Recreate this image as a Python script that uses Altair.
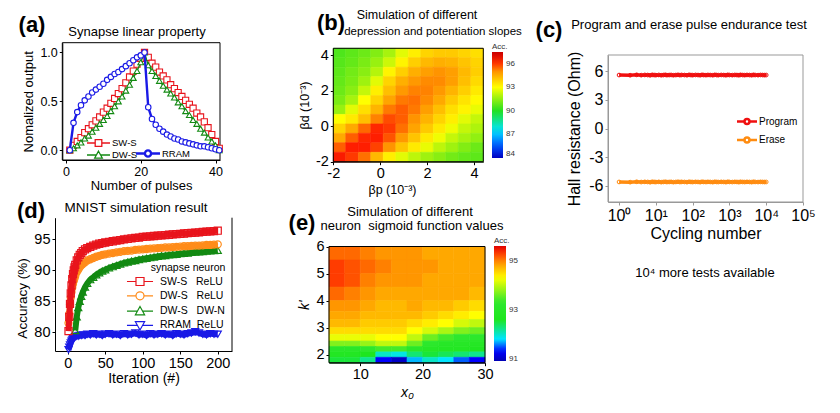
import altair as alt
import pandas as pd

FONT = "Liberation Sans"
MARGIN = 8
W, H = 820, 395


def P(v):
    return round(v - MARGIN, 2)

# ---------------- (a) synapse linear property ----------------
A_PULSE = [1, 2, 3, 4, 5, 6, 7, 8, 9, 10, 11, 12, 13, 14, 15, 16, 17, 18, 19, 20, 21,
           22, 23, 24, 25, 26, 27, 28, 29, 30, 31, 32, 33, 34, 35, 36, 37, 38, 39, 40, 41]
A_SWS = [0.0, 0.05, 0.09, 0.13, 0.18, 0.22, 0.26, 0.30, 0.34, 0.39, 0.43, 0.48, 0.53, 0.58,
         0.63, 0.69, 0.75, 0.81, 0.88, 0.94, 1.0,
         0.95, 0.89, 0.85, 0.80, 0.76, 0.72, 0.67, 0.63, 0.59, 0.55, 0.51, 0.47, 0.43, 0.38,
         0.34, 0.29, 0.23, 0.16, 0.09, 0.02]
A_DWS = [0.0, 0.02, 0.05, 0.08, 0.12, 0.15, 0.19, 0.23, 0.27, 0.31, 0.35, 0.40, 0.45, 0.50,
         0.55, 0.61, 0.67, 0.74, 0.81, 0.90, 1.0,
         0.87, 0.81, 0.76, 0.71, 0.66, 0.62, 0.58, 0.54, 0.49, 0.45, 0.40, 0.36, 0.31, 0.27,
         0.22, 0.18, 0.13, 0.09, 0.05, 0.0]
A_RRAM = [0.0, 0.28, 0.39, 0.46, 0.51, 0.55, 0.59, 0.62, 0.65, 0.68, 0.72, 0.75, 0.78, 0.80,
          0.83, 0.86, 0.89, 0.92, 0.95, 0.97, 1.0,
          0.44, 0.32, 0.26, 0.22, 0.19, 0.16, 0.14, 0.12, 0.11, 0.09, 0.08, 0.07, 0.06, 0.05,
          0.04, 0.04, 0.03, 0.02, 0.01, 0.0]
A_NAMES = ["SW-S", "DW-S", "RRAM"]

# ---------------- (b) depression / potentiation slopes ----------------
B_EDGES_X = [-2.0, -1.47, -0.93, -0.4, 0.13, 0.67, 1.2, 1.73, 2.27, 2.8, 3.33, 3.87, 4.4]
B_EDGES_Y = [-2.0, -1.47, -0.93, -0.4, 0.13, 0.67, 1.2, 1.73, 2.27, 2.8, 3.33, 3.87, 4.4]
B_ACC = [  # rows from top (beta_d high) to bottom
    [90.6, 90.8, 91.0, 91.3, 91.8, 92.6, 93.3, 93.8, 94.0, 94.0, 93.8, 93.6],
    [90.7, 90.9, 91.2, 91.6, 92.3, 93.2, 93.9, 94.3, 94.5, 94.4, 94.1, 93.8],
    [90.8, 91.1, 91.4, 92.0, 93.2, 93.9, 94.5, 94.8, 95.0, 94.8, 94.3, 93.9],
    [90.9, 91.2, 91.7, 92.6, 93.8, 94.5, 94.9, 95.1, 95.1, 94.8, 94.2, 93.7],
    [91.0, 91.4, 92.2, 93.3, 94.2, 94.9, 95.2, 95.2, 94.9, 94.4, 93.9, 93.4],
    [91.2, 91.8, 93.0, 93.8, 94.7, 95.3, 95.4, 95.1, 94.6, 94.0, 93.5, 93.1],
    [91.6, 92.6, 93.6, 94.4, 95.3, 95.6, 95.3, 94.8, 94.2, 93.6, 93.2, 92.7],
    [93.0, 93.4, 94.2, 95.2, 95.8, 95.6, 95.0, 94.4, 93.8, 93.3, 92.6, 92.2],
    [93.8, 94.6, 95.5, 96.2, 96.0, 95.4, 94.7, 94.0, 93.4, 92.8, 92.2, 91.9],
    [94.6, 95.6, 96.2, 96.3, 95.7, 94.9, 94.1, 93.4, 92.8, 92.2, 91.8, 91.5],
    [95.6, 96.3, 96.3, 95.9, 95.0, 94.1, 93.4, 92.7, 92.1, 91.7, 91.3, 91.0],
    [96.4, 96.0, 95.4, 94.3, 93.3, 92.6, 92.1, 91.7, 91.4, 91.1, 90.9, 90.8],
]

# ---------------- (c) endurance ----------------
C_CYCLES = [1, 2, 3, 4, 5, 6, 7, 8, 9, 10, 12, 14, 16, 18, 20, 23, 26, 30, 35, 40, 45,
            50, 60, 70, 80, 90, 100, 120, 140, 160, 180, 200, 230, 260, 300, 350, 400, 450,
            500, 600, 700, 800, 900, 1000, 1200, 1400, 1600, 1800, 2000, 2300, 2600, 3000,
            3500, 4000, 4500, 5000, 6000, 7000, 8000, 9000, 10000]
C_PROGRAM = [5.60, 5.58, 5.62, 5.59, 5.61, 5.60, 5.57, 5.62, 5.60, 5.59,
             5.61, 5.58, 5.60, 5.62, 5.59,
             5.60, 5.61, 5.58, 5.60, 5.62, 5.59,
             5.61, 5.60, 5.58, 5.62, 5.60,
             5.59, 5.61, 5.60, 5.58, 5.62,
             5.60, 5.59, 5.61, 5.60, 5.58,
             5.62, 5.60, 5.59, 5.61,
             5.60, 5.58, 5.62, 5.60,
             5.59, 5.61, 5.60, 5.58, 5.62,
             5.60, 5.59, 5.61, 5.60, 5.58,
             5.62, 5.60, 5.59, 5.61, 5.60,
             5.59, 5.60]
C_ERASE = [-5.60, -5.62, -5.58, -5.61, -5.59, -5.60, -5.63, -5.58, -5.60, -5.61,
           -5.59, -5.62, -5.60, -5.58, -5.61,
           -5.60, -5.59, -5.62, -5.60, -5.58, -5.61,
           -5.59, -5.60, -5.62, -5.58, -5.60,
           -5.61, -5.59, -5.60, -5.62, -5.58,
           -5.60, -5.61, -5.59, -5.60, -5.62,
           -5.58, -5.60, -5.61, -5.59,
           -5.60, -5.62, -5.58, -5.60,
           -5.61, -5.59, -5.60, -5.62, -5.58,
           -5.60, -5.61, -5.59, -5.60, -5.62,
           -5.58, -5.60, -5.61, -5.59, -5.60,
           -5.61, -5.60]
C_NAMES = ["Program", "Erase"]

# ---------------- (d) MNIST ----------------
D_ITER = [1, 2, 3, 4, 5, 6, 7, 8, 9, 10, 12, 14, 16, 18, 20, 23, 26, 30, 34, 38, 42, 46, 50,
          55, 60, 65, 70, 75, 80, 85, 90, 95, 100, 105, 110, 115, 120, 125, 130, 135, 140,
          145, 150, 155, 160, 165, 170, 175, 180, 185, 190, 195, 200]
D_SWS_RELU = [80.2, 82.5, 84.6, 86.3, 87.6, 88.6, 89.4, 90.0, 90.5, 90.9,
              91.6, 92.1, 92.5, 92.8, 93.1,
              93.4, 93.6, 93.8, 94.0, 94.15, 94.3, 94.4, 94.5,
              94.6, 94.7, 94.8, 94.9, 95.0, 95.1, 95.15, 95.25, 95.3, 95.4,
              95.45, 95.5, 95.55, 95.6, 95.65, 95.7, 95.75, 95.8, 95.85, 95.9,
              95.95, 96.0, 96.05, 96.1, 96.15, 96.2, 96.25, 96.3, 96.35, 96.4]
D_DWS_RELU = [81.5, 83.0, 84.5, 85.6, 86.5, 87.2, 87.8, 88.3, 88.7, 89.1,
              89.7, 90.1, 90.5, 90.8, 91.0,
              91.3, 91.6, 91.8, 92.0, 92.2, 92.35, 92.5, 92.6,
              92.7, 92.8, 92.9, 93.0, 93.1, 93.15, 93.2, 93.3, 93.35, 93.4,
              93.45, 93.5, 93.55, 93.6, 93.65, 93.7, 93.7, 93.75, 93.8, 93.85,
              93.9, 93.9, 93.95, 94.0, 94.0, 94.05, 94.1, 94.1, 94.15, 94.2]
D_DWS_DWN = [80.3,  # starts at iteration 10
             82.5, 84.0, 85.0, 85.8, 86.5,
             87.3, 87.9, 88.5, 88.9, 89.3, 89.6, 89.9, 90.1,
             90.4, 90.6, 90.8, 91.0, 91.2, 91.35, 91.5, 91.6, 91.75, 91.85,
             91.95, 92.05, 92.15, 92.25, 92.35, 92.4, 92.5, 92.55, 92.6, 92.7,
             92.75, 92.8, 92.9, 92.95, 93.0, 93.05, 93.1, 93.15, 93.2, 93.25]
D_RRAM_RELU = [77.2, 77.6, 78.0, 78.3, 78.6, 78.8, 79.0, 79.1, 79.2, 79.3,
               79.4, 79.4, 79.5, 79.5, 79.6,
               79.5, 79.7, 79.6, 79.8, 79.6, 79.7, 79.5, 79.7,
               79.8, 79.6, 79.7, 79.5, 79.8, 79.6, 79.7, 79.9, 79.6, 79.7,
               79.5, 79.8, 79.6, 79.7, 79.8, 79.6, 79.7, 79.5, 79.8, 79.7,
               79.6, 79.8, 79.9, 80.1, 79.9, 79.7, 79.6, 79.8, 79.7, 79.7]
D_NAMES = ["SW-S\u00a0\u00a0\u00a0ReLU", "DW-S\u00a0\u00a0\u00a0ReLU",
           "DW-S\u00a0\u00a0\u00a0DW-N", "RRAM\u00a0\u00a0ReLU"]

# ---------------- (e) sigmoid neuron ----------------
E_EDGES_X = [5.0, 7.5, 10.0, 12.5, 15.0, 17.5, 20.0, 22.5, 25.0, 27.5, 30.0]
E_EDGES_Y = [1.7, 1.9, 2.1, 2.3, 2.5, 2.75, 3.0, 3.3, 3.6, 4.0, 4.5, 5.0, 5.5, 6.0]
E_ACC = [  # rows from top (k' = 6) to bottom
    [95.1, 95.1, 95.0, 94.9, 94.9, 94.9, 94.8, 94.8, 94.8, 94.8],
    [95.3, 95.2, 95.1, 95.0, 94.9, 94.9, 94.9, 94.8, 94.8, 94.8],
    [95.3, 95.2, 95.0, 94.9, 94.9, 94.9, 94.8, 94.8, 94.8, 94.8],
    [95.1, 95.0, 94.9, 94.8, 94.8, 94.8, 94.8, 94.8, 94.8, 94.7],
    [94.9, 94.9, 94.8, 94.7, 94.7, 94.8, 94.7, 94.7, 94.6, 94.5],
    [94.8, 94.8, 94.7, 94.7, 94.7, 94.7, 94.6, 94.5, 94.4, 94.3],
    [94.7, 94.7, 94.6, 94.6, 94.6, 94.5, 94.4, 94.3, 94.1, 94.0],
    [94.5, 94.5, 94.5, 94.5, 94.5, 94.3, 94.1, 93.9, 93.7, 93.6],
    [94.2, 94.2, 94.2, 94.3, 94.3, 94.0, 93.6, 93.4, 93.3, 93.2],
    [93.7, 93.7, 93.8, 94.0, 94.0, 93.6, 93.2, 93.0, 93.0, 92.9],
    [93.1, 93.1, 93.2, 93.4, 93.4, 93.1, 92.9, 92.8, 92.8, 92.7],
    [92.8, 92.8, 92.6, 92.0, 91.9, 92.3, 92.5, 92.4, 92.3, 92.2],
    [92.5, 92.5, 92.2, 91.3, 91.0, 91.7, 92.0, 91.8, 91.5, 91.3],
]

# ---------------- styling ----------------
RED, GREEN, BLUE, ORANGE = "#e8141c", "#138a13", "#1a1ae6", "#ff8c1a"
C_RED, C_ORANGE = "#f01010", "#ff8c10"
B_STOPS = [84, 85.5, 87.5, 90, 93, 95, 96.3, 97.5]
B_COLORS = ["#0000c0", "#0050ff", "#00e5ff", "#22e022", "#ffff00", "#ff9400", "#ff1e00", "#c80000"]
E_STOPS = [90.9, 91.3, 91.8, 92.6, 93.3, 94.3, 94.9, 95.3, 95.6]
E_COLORS = ["#0000b4", "#0000ff", "#00e5ff", "#1ee61e", "#2ee82e", "#ffff00", "#ff9600",
            "#ff3c00", "#e00000"]
INT_EXPR = "(datum.value < 0 ? '-' : '') + abs(datum.value)"
POW_EXPR = "'10' + ['\u2070','\u00b9','\u00b2','\u00b3','\u2074','\u2075'][round(log(datum.value)/LN10)]"


def sc(dom, rng, typ="linear"):
    return alt.Scale(type=typ, domain=dom, range=rng, nice=False, zero=False)


def ax(orient, edge, values, title, lsize, tsize, color="black", fmt=None, expr=None,
       tpad=3, extra=None):
    offset = -P(edge) if orient == "left" else P(edge) - H
    kw = dict(orient=orient, offset=offset, values=values, title=title, grid=False,
              labelFont=FONT, titleFont=FONT, labelFontSize=lsize, titleFontSize=tsize,
              titleFontWeight="normal", labelColor="black", titleColor="black",
              domainColor=color, tickColor=color, tickSize=3, labelPadding=2,
              titlePadding=tpad, labelFlush=False, labelOverlap=False)
    if fmt:
        kw["format"] = fmt
    if expr:
        kw["labelExpr"] = expr
    if extra:
        kw.update(extra)
    return alt.Axis(**kw)


def sym(marker, L, m):
    r = lambda v: round(v, 3)
    if marker == "square":
        return f"M{r(-L)},0H{r(-m)}M{r(m)},0H{r(L)}M{r(-m)},{r(-m)}H{r(m)}V{r(m)}H{r(-m)}Z"
    if marker == "circle":
        return (f"M{r(-L)},0H{r(-m)}M{r(m)},0H{r(L)}M{r(-m)},0"
                f"A{r(m)},{r(m)} 0 1,0 {r(m)},0A{r(m)},{r(m)} 0 1,0 {r(-m)},0Z")
    t = m * 1.15
    e = t / 1.8
    if marker == "triangle-up":
        return f"M{r(-L)},0H{r(-e)}M{r(e)},0H{r(L)}M0,{r(-t)}L{r(t)},{r(0.8 * t)}H{r(-t)}Z"
    return f"M{r(-L)},0H{r(-e)}M{r(e)},0H{r(L)}M0,{r(t)}L{r(t)},{r(-0.8 * t)}H{r(-t)}Z"


def enc(xf, yf, xs, ys, xa, ya):
    return dict(x=alt.X(f"{xf}:Q", scale=xs, axis=xa), y=alt.Y(f"{yf}:Q", scale=ys, axis=ya))


def frame(xs, ys, xa, ya, xdom, ydom, color="black"):
    df = pd.DataFrame({"x0": [xdom[0]], "x1": [xdom[1]], "y0": [ydom[0]], "y1": [ydom[1]]})
    return alt.Chart(df).mark_rect(fillOpacity=0, stroke=color, strokeWidth=1).encode(
        x=alt.X("x0:Q", scale=xs, axis=xa), x2="x1:Q",
        y=alt.Y("y0:Q", scale=ys, axis=ya), y2="y1:Q")


def label(text, x, y, size, bold=False, italic=False, align="center", color="black"):
    return alt.Chart(pd.DataFrame({"t": [text]})).mark_text(
        font=FONT, fontSize=size, fontWeight="bold" if bold else "normal",
        fontStyle="italic" if italic else "normal", align=align, baseline="middle",
        color=color).encode(x=alt.value(P(x)), y=alt.value(P(y)), text="t:N")


def sym_legend(x, y, size, sw, lsize, loff, rpad, symbol_type=None):
    kw = dict(title=None, orient="none", legendX=P(x), legendY=P(y), direction="vertical",
              symbolSize=size, symbolStrokeWidth=sw, labelFontSize=lsize, labelOffset=loff,
              rowPadding=rpad, padding=0, labelFont=FONT, labelColor="black",
              symbolFillColor="transparent")
    if symbol_type:
        kw["symbolType"] = symbol_type
    return alt.Legend(**kw)


def grad_legend(x, y, length, thick, values):
    return alt.Legend(type="gradient", title="Acc.", orient="none", legendX=P(x), legendY=P(y),
                      direction="vertical", gradientLength=length, gradientThickness=thick,
                      titleFontSize=8, labelFontSize=8, values=values,
                      titleFontWeight="normal", titleColor="#333", labelColor="#333",
                      titlePadding=1, labelOffset=3, gradientStrokeWidth=0, padding=0,
                      titleFont=FONT, labelFont=FONT)


def heat(rows, xs, ys, xa, ya, stops, colors, legend):
    # the stroke scale repeats the fill colours (covers seams between cells); its domain is
    # nudged by a negligible amount so that its (hidden) legend is not merged with the colour bar
    fill_scale = alt.Scale(domain=stops, range=colors, interpolate="rgb")
    stroke_scale = alt.Scale(domain=[s + 1e-6 for s in stops], range=colors, interpolate="rgb")
    return alt.Chart(pd.DataFrame(rows)).mark_rect(strokeWidth=0.6).encode(
        x=alt.X("x0:Q", scale=xs, axis=xa), x2="x1:Q",
        y=alt.Y("y0:Q", scale=ys, axis=ya), y2="y1:Q",
        color=alt.Color("v:Q", scale=fill_scale, legend=legend),
        stroke=alt.Stroke("v:Q", scale=stroke_scale, legend=None))


layers = []

# =============== panel (a) ===============
A_XD, A_YD = [-1, 41.2], [-0.1, 1.1]
A_XS = sc(A_XD, [P(62.3), P(220)])
A_YS = sc(A_YD, [P(160), P(42.7)])
A_XA = ax("bottom", 160, [0, 20, 40], "Number of pulses", 12.5, 13, tpad=2)
A_YA = ax("left", 62.3, [0, 0.5, 1.0], "Nomalized output", 12.5, 13, fmt=".1f", tpad=4)
a_layers = [frame(A_XS, A_YS, A_XA, A_YA, A_XD, A_YD)]
for vals, col, shape, sw, size in [(A_SWS, RED, "square", 1.3, 38),
                                   (A_DWS, GREEN, "triangle-up", 1.3, 34),
                                   (A_RRAM, BLUE, "circle", 2.4, 30)]:
    df = pd.DataFrame({"x": A_PULSE, "y": vals})
    a_layers.append(alt.Chart(df).mark_line(color=col, strokeWidth=sw).encode(
        **enc("x", "y", A_XS, A_YS, A_XA, A_YA)))
    a_layers.append(alt.Chart(df).mark_point(shape=shape, size=size, filled=True, fill="white",
                                             stroke=col, strokeWidth=1.1, opacity=1).encode(
        **enc("x", "y", A_XS, A_YS, A_XA, A_YA)))
layers.append(alt.layer(*a_layers))

leg_a1 = sym_legend(92.5, 137, 100, 1.3, 9.5, 7.5, -1)
layers.append(alt.Chart(pd.DataFrame({"s": A_NAMES[:2]})).mark_point(filled=False, opacity=1).encode(
    color=alt.Color("s:N", scale=alt.Scale(domain=A_NAMES[:2], range=[RED, GREEN]), legend=leg_a1),
    shape=alt.Shape("s:N", scale=alt.Scale(domain=A_NAMES[:2],
                                           range=[sym("square", 2.3, 0.66), sym("triangle-up", 2.3, 0.66)]),
                    legend=leg_a1)).transform_filter("false"))
leg_a2 = sym_legend(141.5, 147, 100, 2.4, 9.5, 7.5, -1, symbol_type=sym("circle", 2.4, 0.62))
layers.append(alt.Chart(pd.DataFrame({"s": A_NAMES[2:]})).mark_point(filled=False, opacity=1).encode(
    color=alt.Color("s:N", scale=alt.Scale(domain=A_NAMES[2:], range=[BLUE]), legend=leg_a2)
).transform_filter("false"))

# =============== panel (b) ===============
B_XD, B_YD = [-2, 4.4], [-2, 4.4]
B_XS = sc(B_XD, [P(333.3), P(483.3)])
B_YS = sc(B_YD, [P(161.7), P(48.3)])
B_XA = ax("bottom", 161.7, [-2, 0, 2, 4], "\u03b2p (10\u207b\u00b3)", 14.5, 12.5, expr=INT_EXPR,
          tpad=3, extra=dict(titleX=P(392)))
B_YA = ax("left", 333.3, [-2, 0, 2, 4], "\u03b2d (10\u207b\u00b3)", 14.5, 12.5, expr=INT_EXPR, tpad=4)
rows = []
nb = len(B_ACC)
for i, row in enumerate(B_ACC):
    for j, v in enumerate(row):
        rows.append({"x0": B_EDGES_X[j], "x1": B_EDGES_X[j + 1],
                     "y0": B_EDGES_Y[nb - 1 - i], "y1": B_EDGES_Y[nb - i], "v": v})
b_heat = heat(rows, B_XS, B_YS, B_XA, B_YA, B_STOPS, B_COLORS,
              grad_legend(492, 43, 106, 11, [84, 87, 90, 93, 96]))
layers.append(alt.layer(b_heat, frame(B_XS, B_YS, B_XA, B_YA, B_XD, B_YD)))

# =============== panel (c) ===============
C_XD, C_YD = [0.5, 100000], [-7.7, 7.7]
C_XS = sc(C_XD, [P(608), P(803)], "log")
C_YS = sc(C_YD, [P(202), P(55)])
C_XA = ax("bottom", 202, [1, 10, 100, 1000, 10000, 100000], "Cycling number", 16, 16,
          color="#999999", expr=POW_EXPR, tpad=2)
C_YA = ax("left", 608, [-6, -3, 0, 3, 6], "Hall resistance (Ohm)", 16, 16, color="#999999",
          expr=INT_EXPR, tpad=6)
c_layers = [frame(C_XS, C_YS, C_XA, C_YA, C_XD, C_YD, color="#999999")]
for vals, col in [(C_PROGRAM, C_RED), (C_ERASE, C_ORANGE)]:
    df = pd.DataFrame({"x": C_CYCLES, "y": vals})
    c_layers.append(alt.Chart(df).mark_line(color=col, strokeWidth=3.5).encode(
        **enc("x", "y", C_XS, C_YS, C_XA, C_YA)))
    c_layers.append(alt.Chart(df).mark_point(shape="circle", size=14, filled=False, color=col,
                                             strokeWidth=1, opacity=1).encode(
        **enc("x", "y", C_XS, C_YS, C_XA, C_YA)))
layers.append(alt.layer(*c_layers))
leg_c = sym_legend(741.5, 116, 64, 2.5, 10, 6.5, 3.5, symbol_type=sym("circle", 2.5, 0.62))
layers.append(alt.Chart(pd.DataFrame({"s": C_NAMES})).mark_point(filled=False, opacity=1).encode(
    color=alt.Color("s:N", scale=alt.Scale(domain=C_NAMES, range=[C_RED, C_ORANGE]), legend=leg_c)
).transform_filter("false"))

# =============== panel (d) ===============
D_XD, D_YD = [-17, 219], [77, 98.5]
D_XS = sc(D_XD, [P(55), P(232)])
D_YS = sc(D_YD, [P(351), P(217.7)])
D_XA = ax("bottom", 351, [0, 50, 100, 150, 200], "Iteration (#)", 14.5, 14, tpad=2)
D_YA = ax("left", 55, [80, 85, 90, 95], "Accuracy (%)", 14.5, 13.5, tpad=4,
          extra=dict(titleY=P(298)))
d_layers = []
d_series = [(D_ITER, D_RRAM_RELU, BLUE, "triangle-down"),
            (D_ITER[9:], D_DWS_DWN, GREEN, "triangle-up"),
            (D_ITER, D_DWS_RELU, ORANGE, "circle"),
            (D_ITER, D_SWS_RELU, RED, "square")]
for its, vals, col, shape in d_series:
    df = pd.DataFrame({"x": its, "y": vals})
    d_layers.append(alt.Chart(df).mark_line(color=col, strokeWidth=6).encode(
        **enc("x", "y", D_XS, D_YS, D_XA, D_YA)))
    d_layers.append(alt.Chart(df).mark_point(shape=shape, size=50, filled=False, color=col,
                                             strokeWidth=1.2, opacity=1).encode(
        **enc("x", "y", D_XS, D_YS, D_XA, D_YA)))
spine = pd.DataFrame({"x1": [D_XD[1]], "y0": [D_YD[0]], "y1": [D_YD[1]]})
d_layers.append(alt.Chart(spine).mark_rule(color="black", strokeWidth=1).encode(
    x=alt.X("x1:Q", scale=D_XS, axis=D_XA), y=alt.Y("y0:Q", scale=D_YS, axis=D_YA), y2="y1:Q"))
layers.append(alt.layer(*d_layers))
leg_d = sym_legend(133, 274.5, 144, 1.2, 10.5, 13, 0.3)
layers.append(alt.Chart(pd.DataFrame({"s": D_NAMES})).mark_point(filled=False, opacity=1).encode(
    color=alt.Color("s:N", scale=alt.Scale(domain=D_NAMES, range=[RED, ORANGE, GREEN, BLUE]),
                    legend=leg_d),
    shape=alt.Shape("s:N", scale=alt.Scale(domain=D_NAMES, range=[
        sym("square", 2.17, 0.67), sym("circle", 2.17, 0.67),
        sym("triangle-up", 2.17, 0.67), sym("triangle-down", 2.17, 0.67)]), legend=leg_d)
).transform_filter("false"))

# =============== panel (e) ===============
E_XD, E_YD = [5, 30], [1.7, 6]
E_XS = sc(E_XD, [P(329), P(485)])
E_YS = sc(E_YD, [P(362.7), P(246.5)])
E_XA = ax("bottom", 362.7, [10, 20, 30], "x\u2080", 14.5, 14, tpad=4,
          extra=dict(titleFontStyle="italic"))
E_YA = ax("left", 329, [2, 3, 4, 5, 6], "k'", 14.5, 14, tpad=4,
          extra=dict(titleFontStyle="italic"))
rows = []
ne = len(E_ACC)
for i, row in enumerate(E_ACC):
    for j, v in enumerate(row):
        rows.append({"x0": E_EDGES_X[j], "x1": E_EDGES_X[j + 1],
                     "y0": E_EDGES_Y[ne - 1 - i], "y1": E_EDGES_Y[ne - i], "v": v})
e_heat = heat(rows, E_XS, E_YS, E_XA, E_YA, E_STOPS, E_COLORS,
              grad_legend(494, 237, 115, 12, [91, 93, 95]))
layers.append(alt.layer(e_heat, frame(E_XS, E_YS, E_XA, E_YA, E_XD, E_YD)))

# =============== texts ===============
layers += [
    label("(a)", 32, 25, 22, bold=True),
    label("Synapse linear property", 137, 32, 13),
    label("(b)", 331, 23, 22, bold=True),
    label("Simulation of different", 417, 15, 12.5),
    label("depression and potentiation slopes", 433, 32, 11.5),
    label("(c)", 549, 30, 22, bold=True),
    label("Program and erase pulse endurance test", 689, 25, 13),
    label("10\u2074 more tests available", 705, 273, 13),
    label("(d)", 31, 211, 22, bold=True),
    label("MNIST simulation result", 136, 208, 13.5),
    label("synapse neuron", 188, 268, 10.5),
    label("(e)", 302, 223, 22, bold=True),
    label("Simulation of different", 410, 212, 13),
    label("neuron\u00a0 sigmoid function values", 412, 226, 13),
]

chart = alt.layer(*layers).resolve_scale(
    x="independent", y="independent", color="independent", shape="independent",
    stroke="independent"
).properties(width=W, height=H, padding=0, background="white").configure_view(stroke=None)

chart.save("out.html", embed_options={"renderer": "svg", "actions": False})
